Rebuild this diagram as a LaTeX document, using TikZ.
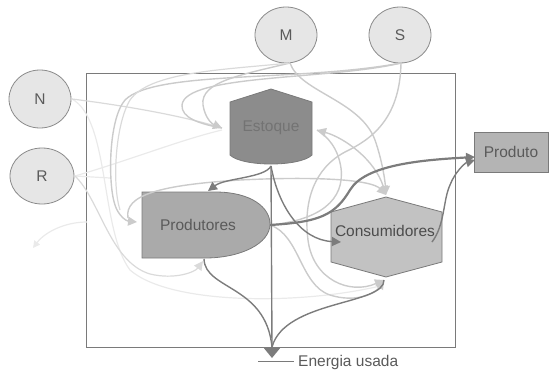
\documentclass[tikz,border=0pt]{standalone}
\usepackage{fontspec}
\setmainfont{Liberation Sans}
\usetikzlibrary{shapes.geometric,arrows.meta}
\definecolor{circfill}{HTML}{E6E6E6}
\definecolor{circedge}{HTML}{8A8A8A}
\definecolor{edgegray}{HTML}{7A7A7A}
\definecolor{estfill}{HTML}{8C8C8C}
\definecolor{prodfill}{HTML}{AAAAAA}
\definecolor{consfill}{HTML}{C2C2C2}
\definecolor{outfill}{HTML}{B4B4B4}
\definecolor{darkline}{HTML}{7C7C7C}
\definecolor{lightline}{HTML}{CBCBCB}
\definecolor{paleline}{HTML}{DADADA}
\definecolor{faintline}{HTML}{EAEAEA}
\definecolor{txtgray}{HTML}{5A5A5A}
\tikzset{
  bigtxt/.style={font=\fontsize{15.5}{18}\selectfont, text=txtgray},
  circ/.style={ellipse, draw=circedge, line width=0.8pt, fill=circfill, bigtxt, inner sep=0pt},
  dark/.style={draw=darkline, line width=1.4pt},
  light/.style={draw=lightline, line width=1.4pt},
  pale/.style={draw=paleline, line width=1.2pt},
  faint/.style={draw=faintline, line width=1.2pt},
  tip/.style={-{Triangle[length=9pt,width=9pt]}},
}
\begin{document}
\begin{tikzpicture}[x=1pt,y=-1pt]
\useasboundingbox (0,0) rectangle (550,370);
% frame
\draw[edgegray, line width=0.9pt] (86,73) rectangle (455,347);

% outside nodes
\node[circ, minimum width=62, minimum height=56] (M) at (286,35) {M};
\node[circ, minimum width=62, minimum height=56] (S) at (400,35) {S};
\node[circ, minimum width=62, minimum height=58] (N) at (40,99) {N};
\node[circ, minimum width=64, minimum height=56] (R) at (42,176) {R};
\node[rectangle, draw=edgegray, line width=0.8pt, fill=outfill, bigtxt, minimum width=74, minimum height=40] (out) at (511,152) {Produto};

% faint connectors (drawn first)
\coordinate (nR) at (72,99);
\coordinate (rR) at (75,176);
\coordinate (leak) at (33,248);
\coordinate (leakS) at (87,222);
\draw[faint] (nR) .. controls (110,120) and (100,230) .. (130,270) .. controls (170,305) and (300,305) .. (380,286);
\draw[faint] (rR) .. controls (130,160) and (180,140) .. (222,130);
\draw[faint, -{Triangle[length=7pt,width=7pt]}] (leakS) .. controls (65,222) and (45,232) .. (leak);
\draw[faint] (rR) -- (110,178);

% Estoque shape
\draw[edgegray, line width=0.8pt, fill=estfill] (230,102) -- (271,89) -- (312,102) -- (312,155) .. controls (300,167) and (242,167) .. (230,155) -- cycle;
\node[bigtxt, text=black!55] (est) at (271,128) {Estoque};
% Produtores shape
\draw[edgegray, line width=0.8pt, fill=prodfill] (142,192) -- (215,192) .. controls (252,192) and (270,208) .. (270,224) .. controls (270,244) and (240,258) .. (205,258) -- (142,258) -- cycle;
\node[bigtxt] (prod) at (198,225) {Produtores};
% Consumidores shape
\draw[edgegray, line width=0.8pt, fill=consfill] (331,212) -- (386,197) -- (442,212) -- (442,262) -- (386,277) -- (331,262) -- cycle;
\node[bigtxt, text=black!70] (cons) at (385,231) {Consumidores};

% anchor coordinates
\coordinate (Mb) at (290,63);
\coordinate (Sb) at (401,63);
\coordinate (estL) at (222,128);
\coordinate (estR) at (317,130);
\coordinate (estB) at (271,166);
\coordinate (prodT) at (208,191);
\coordinate (prodL) at (137,222);
\coordinate (prodR) at (270,225);
\coordinate (prodB) at (204,259);
\coordinate (prodBi) at (203,261);
\coordinate (consT) at (386,195);
\coordinate (consL) at (341,242);
\coordinate (consR) at (432,242);
\coordinate (consB) at (384,280);
\coordinate (outL) at (475,157);
\coordinate (outL2) at (475,160);
\coordinate (sink) at (272,347);

% light connectors
\draw[pale] (nR) .. controls (120,105) and (180,115) .. (estL);
\draw[light, tip] (Mb) .. controls (240,75) and (200,82) .. (203,105) .. controls (205,118) and (212,124) .. (estL);
\draw[light] (Sb) .. controls (330,80) and (185,74) .. (182,105) .. controls (181,118) and (200,124) .. (estL);
\draw[light, tip] (Sb) .. controls (300,82) and (155,70) .. (125,100) .. controls (108,120) and (108,185) .. (115,205) .. controls (118,215) and (126,221) .. (prodL);
\draw[pale] (Mb) .. controls (220,70) and (150,72) .. (130,100) .. controls (115,125) and (112,185) .. (120,210);
\draw[light, tip] (Mb) .. controls (300,92) and (360,100) .. (375,140) .. controls (382,160) and (385,180) .. (consT);
\draw[light, {Triangle[length=9pt,width=9pt]}-{Triangle[length=9pt,width=9pt]}] (estR) .. controls (345,138) and (375,160) .. (consT);
\draw[light] (prodR) .. controls (320,220) and (345,200) .. (341,168) .. controls (338,148) and (328,137) .. (estR);
\draw[light, tip] (Sb) .. controls (400,120) and (370,140) .. (345,152) .. controls (315,168) and (303,200) .. (308,240) .. controls (313,280) and (350,295) .. (consB);
\draw[light, tip] (prodR) .. controls (300,235) and (300,285) .. (330,295) .. controls (355,303) and (375,294) .. (consB);
\draw[light, tip] (128,218) .. controls (124,195) and (160,185) .. (240,180) .. controls (320,176) and (372,180) .. (consT);
\draw[pale, tip] (rR) .. controls (100,200) and (110,262) .. (150,274) .. controls (175,280) and (195,272) .. (prodBi);

% dark connectors
\draw[dark] (estB) -- (sink);
\draw[dark, tip] (estB) .. controls (265,178) and (225,178) .. (prodT);
\draw[dark, tip] (estB) .. controls (278,205) and (300,240) .. (consL);
\draw[dark, line width=2.2pt, tip] (prodR) .. controls (320,222) and (335,215) .. (350,190) .. controls (365,165) and (420,160) .. (outL);
\draw[dark, tip] (consR) .. controls (445,225) and (443,200) .. (450,185) .. controls (455,172) and (465,163) .. (outL2);
\draw[dark] (prodB) .. controls (205,290) and (266,285) .. (sink);
\draw[dark] (consB) .. controls (385,305) and (285,300) .. (sink);

% energy sink
\fill[darkline] (263,347) -- (281,347) -- (272,358) -- cycle;
\coordinate (gL) at (258,361);
\coordinate (gR) at (294,361);
\draw[edgegray, line width=0.9pt] (gL) -- (gR);
\node[bigtxt, anchor=west, inner sep=0pt] (energy) at (298,362) {Energia usada};
\end{tikzpicture}
\end{document}
